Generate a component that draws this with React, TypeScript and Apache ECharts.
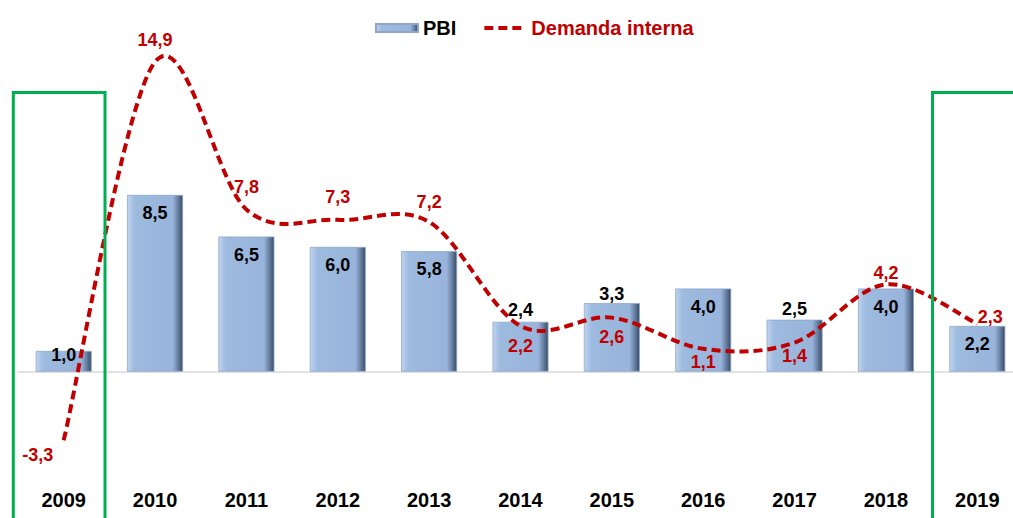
import React, { useEffect, useRef } from "react";
import * as echarts from "echarts";

const years = ["2009", "2010", "2011", "2012", "2013", "2014", "2015", "2016", "2017", "2018", "2019"];
const pbi = [1.0, 8.5, 6.5, 6.0, 5.8, 2.4, 3.3, 4.0, 2.5, 4.0, 2.2];
const demanda = [-3.3, 14.9, 7.8, 7.3, 7.2, 2.2, 2.6, 1.1, 1.4, 4.2, 2.3];

// label placement tweaks (px) for each point
const pbiLabelPos = ["inside", "insideTop", "insideTop", "insideTop", "insideTop", "top", "top", "insideTop", "top", "insideTop", "insideTop"];
const pbiLabelDist = [0, 9, 9, 9, 9, 3, 0, 9, 2, 9, 9];
const demLabelOffset: [number, number][] = [
  [-26, 15], [0, -22], [0, -22], [0, -23], [0, -20], [0, 20], [0, 19], [0, 13], [0, 13], [0, -11], [13, -7],
];

const fmt = (v: number) => v.toFixed(1).replace(".", ",");
const FONT = "'Liberation Sans', Arial, sans-serif";
const RED = "#C00000";

export default function App() {
  const ref = useRef<HTMLDivElement>(null);
  useEffect(() => {
    if (!ref.current) return;
    const chart = echarts.init(ref.current, null, { renderer: "svg" });
    const barColor = new echarts.graphic.LinearGradient(0, 0, 1, 0, [
      { offset: 0, color: "#c3d5ee" },
      { offset: 0.08, color: "#a9c3e6" },
      { offset: 0.14, color: "#9dbadf" },
      { offset: 0.82, color: "#98b4da" },
      { offset: 0.9, color: "#6f88ab" },
      { offset: 1, color: "#3a4d68" },
    ]);
    chart.setOption({
      animation: false,
      textStyle: { fontFamily: FONT },
      grid: { left: 18, top: 18.1, width: 1005, height: 457.6, containLabel: false },
      legend: {
        left: 370,
        top: 13,
        itemWidth: 42,
        itemHeight: 8,
        itemGap: 26,
        textStyle: { fontFamily: FONT, fontSize: 20, fontWeight: "bold", color: "#000" },
        data: [
          { name: "PBI", icon: "rect" },
          {
            name: "Demanda interna",
            textStyle: { color: RED },
            itemStyle: { opacity: 0 },
            lineStyle: { color: RED, width: 4, type: [9, 5], opacity: 1 },
          },
        ],
      },
      xAxis: {
        type: "category",
        data: years,
        axisLine: { show: false },
        axisTick: { show: false },
        axisLabel: { fontFamily: FONT, fontSize: 20, fontWeight: "bold", color: "#000", margin: 14 },
        splitLine: { show: false },
      },
      yAxis: { type: "value", min: -5, max: 17, show: false, splitLine: { show: false } },
      graphic: [
        { type: "rect", shape: { x: 13.3, y: 92.5, width: 91.7, height: 600 }, style: { fill: "none", stroke: "#00B050", lineWidth: 3 }, z: 100 },
        { type: "rect", shape: { x: 932.5, y: 92.5, width: 200, height: 600 }, style: { fill: "none", stroke: "#00B050", lineWidth: 3 }, z: 100 },
      ],
      series: [
        {
          name: "PBI",
          type: "bar",
          barWidth: 56,
          z: 2,
          itemStyle: { color: barColor, borderColor: "#8ea7c8", borderWidth: 0.8 },
          data: pbi.map((v, i) => ({
            value: v,
            label: {
              show: true,
              position: pbiLabelPos[i],
              distance: pbiLabelDist[i],
              offset: i === 0 ? [0, -6] : [0, 0],
              formatter: () => fmt(v),
              fontFamily: FONT,
              fontSize: 18,
              fontWeight: "bold",
              color: "#000",
            },
          })),
          markLine: {
            silent: true,
            symbol: "none",
            label: { show: false },
            lineStyle: { color: "#D9D9D9", width: 1.5, type: "solid" },
            data: [{ yAxis: 0 }],
            z: 1,
          },
        },
        {
          // smoothed curve (Catmull-Rom style, like the spreadsheet's smoothing)
          name: "curve",
          type: "custom",
          silent: true,
          z: 5,
          data: [[0, demanda[0]]],
          renderItem: (params: any, api: any) => {
            const pts = demanda.map((v, i) => api.coord([i, v]));
            let d = `M${pts[0][0]},${pts[0][1]}`;
            for (let i = 0; i < pts.length - 1; i++) {
              const p0 = pts[i - 1] || pts[i];
              const p1 = pts[i];
              const p2 = pts[i + 1];
              const p3 = pts[i + 2] || pts[i + 1];
              const c1x = p1[0] + (p2[0] - p0[0]) / 6;
              const c1y = p1[1] + (p2[1] - p0[1]) / 6;
              const c2x = p2[0] - (p3[0] - p1[0]) / 6;
              const c2y = p2[1] - (p3[1] - p1[1]) / 6;
              d += ` C${c1x},${c1y} ${c2x},${c2y} ${p2[0]},${p2[1]}`;
            }
            return {
              type: "path",
              shape: { pathData: d },
              style: { fill: "none", stroke: RED, lineWidth: 4, lineDash: [9, 5] },
            };
          },
        },
        {
          name: "Demanda interna",
          type: "line",
          z: 6,
          symbol: "circle",
          symbolSize: 1,
          itemStyle: { color: RED, opacity: 0 },
          lineStyle: { color: RED, width: 4, type: [9, 5], opacity: 0 },
          data: demanda.map((v, i) => ({
            value: v,
            label: {
              show: true,
              position: "inside",
              offset: demLabelOffset[i],
              formatter: () => fmt(v),
              fontFamily: FONT,
              fontSize: 18,
              fontWeight: "bold",
              color: RED,
              opacity: 1,
            },
          })),
        },
      ],
    });
    return () => chart.dispose();
  }, []);
  return (
    <div style={{ position: "absolute", left: 0, top: 0, width: 1013, height: 518, overflow: "hidden" }}>
      <div ref={ref} style={{ width: 1040, height: 518 }} />
    </div>
  );
}
